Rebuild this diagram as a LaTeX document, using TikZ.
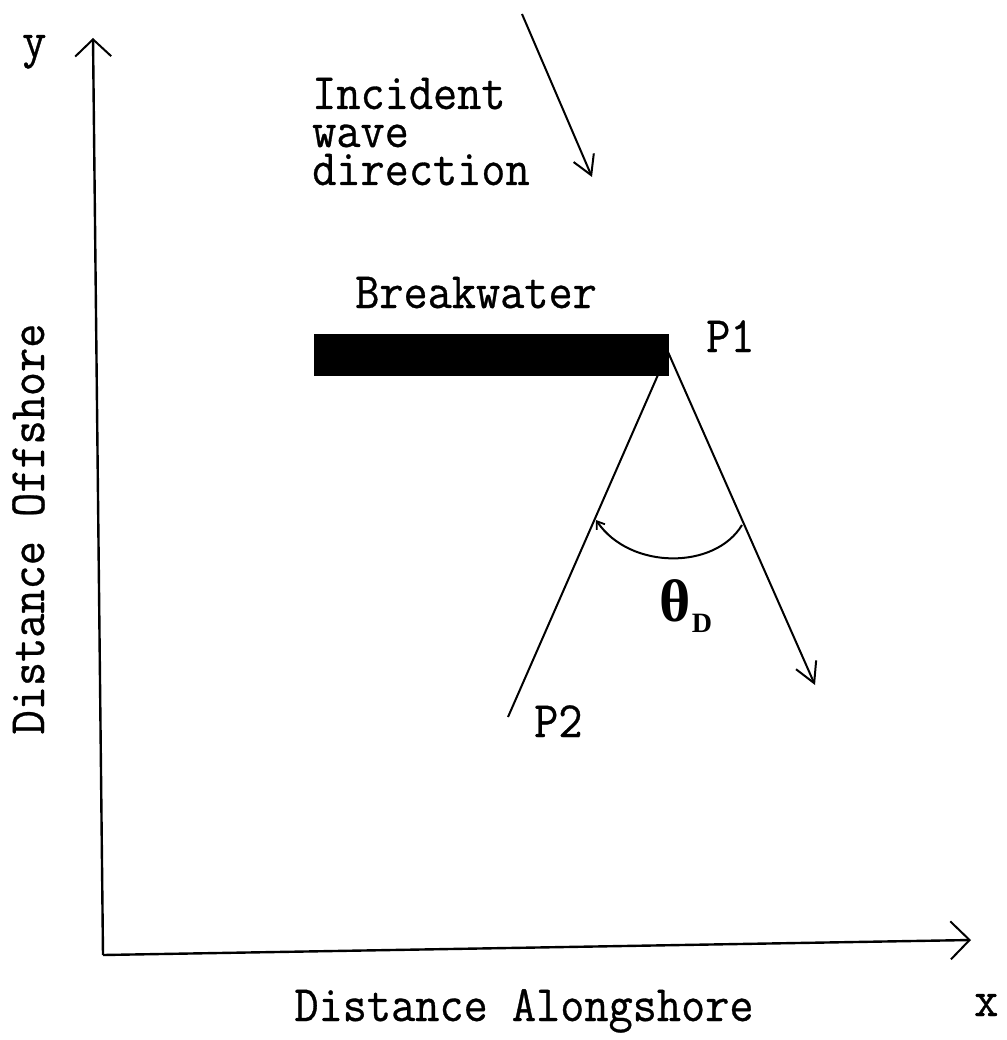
\documentclass[tikz,border=0pt]{standalone}
\usepackage{fontspec}
\setmonofont{Latin Modern Mono}[FakeStretch=0.92, FakeBold=0.6]
\newfontfamily\grk{Liberation Serif}
\usetikzlibrary{arrows.meta}
\tikzset{
  tt/.style={inner sep=0pt, font=\ttfamily\fontsize{51}{38}\selectfont},
  lbl/.style={tt, anchor=base west},
  axis/.style={line width=2.4pt},
  ln/.style={line width=2pt},
}
\begin{document}
\begin{tikzpicture}[x=1pt,y=-1pt]
\useasboundingbox (0,0) rectangle (1006,1040);
% axes
\coordinate (O) at (103,955);
\coordinate (ytip) at (93,38);
\coordinate (xtip) at (971,940);
\draw[axis,-{Straight Barb[length=17pt,width=36pt,line width=2pt]}] (O) -- (ytip);
\draw[axis,-{Straight Barb[length=19pt,width=38pt,line width=2pt]}] (O) -- (xtip);
% axis labels
\node[lbl] (ylab) at (22,57) {y};
\node[lbl] (xlab) at (974,1016) {x};
\node[tt, anchor=base] (along) at (524,1021) {Distance Alongshore};
\node[tt, anchor=base, rotate=90] (off) at (44,529) {Distance Offshore};
% incident wave
\node[lbl, align=left] (inc) at (312,185) {Incident\\wave\\direction};
\coordinate (wtail) at (522,14);
\coordinate (whead) at (592,177);
\draw[ln,-{Straight Barb[length=19pt,width=22pt,line width=2pt]}] (wtail) -- (whead);
% diffraction lines
\coordinate (vert) at (668,352);
\coordinate (p2end) at (508,717);
\coordinate (rtip) at (815,685);
\draw[ln] (vert) -- (p2end);
\draw[ln,-{Straight Barb[length=20pt,width=22pt,line width=2pt]}] (vert) -- (rtip);
% breakwater
\node[fill=black, draw=none, inner sep=0pt, minimum width=355pt, minimum height=42pt, anchor=north west] (bw) at (314,334) {};
\node[lbl] (bwlab) at (355,308) {Breakwater};
\node[lbl] (p1) at (706,352) {P1};
\node[lbl] (p2) at (534,737) {P2};
% angle arc
\coordinate (arcR) at (742,525);
\coordinate (arcL) at (596,520);
\draw[ln,-{Straight Barb[length=7pt,width=10pt,line width=1.8pt]}] (arcR) .. controls (715,570) and (630,570) .. (arcL);
% theta_D
\node[inner sep=0pt, anchor=base west, font=\grk\bfseries\fontsize{60}{60}\selectfont] (th) at (659,621) {θ};
\node[inner sep=0pt, anchor=base west, font=\grk\bfseries\fontsize{28}{28}\selectfont] (thD) at ([xshift=1pt,yshift=-11pt]th.base east) {D};
\end{tikzpicture}
\end{document}
